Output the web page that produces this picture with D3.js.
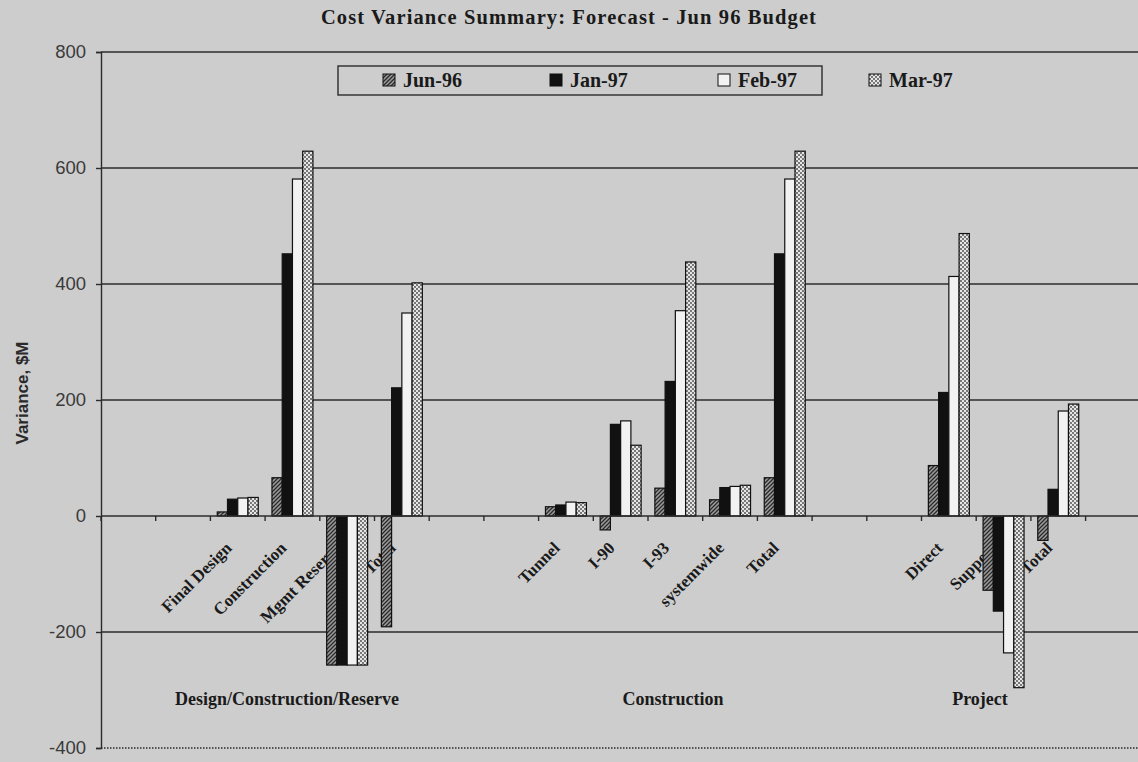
<!DOCTYPE html>
<html><head><meta charset="utf-8">
<script src="https://cdn.jsdelivr.net/npm/d3@7"></script>
<style>body{margin:0;background:#cdcdcd;} svg{display:block}</style>
</head><body><svg id="c" width="1138" height="762"></svg>
<script>
// ---- data ----
const categories = ["", "", "Final Design", "Construction", "Mgmt Reserve", "Total", "", "", "Tunnel", "I-90", "I-93", "systemwide", "Total", "", "", "Direct", "Support", "Total", ""];
const seriesNames = ["Jun-96", "Jan-97", "Feb-97", "Mar-97"];
const jun96 = [null, null, 7, 66, -257, -191, null, null, 16, -24, 48, 28, 66, null, null, 87, -128, -42, null];
const jan97 = [null, null, 29, 452, -257, 221, null, null, 19, 158, 232, 49, 452, null, null, 213, -164, 46, null];
const feb97 = [null, null, 31, 581, -257, 350, null, null, 24, 164, 354, 51, 581, null, null, 413, -236, 181, null];
const mar97 = [null, null, 32, 629, -257, 402, null, null, 23, 122, 438, 53, 629, null, null, 487, -296, 193, null];
const groupLabels = ["Design/Construction/Reserve", "Construction", "Project"];
const yTicks = [-400, -200, 0, 200, 400, 600, 800];
const titleText = "Cost Variance Summary: Forecast - Jun 96 Budget";
const yLabelText = "Variance, $M";

// ---- layout ----
const svg = d3.select("#c");
const plotLeft = 101, plotTop = 52, plotBottom = 748, step = 54.7;
const plotRight = plotLeft + step * categories.length;
const groupLabelX = [287, 673, 980];
const legendX = [383, 550, 718, 869];
const ink = "#1a1a1a";

const y = d3.scaleLinear().domain([-400, 800]).range([plotBottom, plotTop]);
const x = d3.scaleBand().domain(d3.range(categories.length)).range([plotLeft, plotRight]).padding(0);
const xs = d3.scaleBand().domain(seriesNames).range([0, x.bandwidth()]).paddingInner(0).paddingOuter(0.67);

const series = [jun96, jan97, feb97, mar97];

// patterns
const defs = svg.append("defs");
const pj = defs.append("pattern").attr("id", "pJun").attr("patternUnits", "userSpaceOnUse").attr("width", 4).attr("height", 4);
pj.append("rect").attr("width", 4).attr("height", 4).attr("fill", "#9c9c9c");
pj.append("path").attr("d", "M0,4 L4,0 M-1,1 L1,-1 M3,5 L5,3").attr("stroke", "#2a2a2a").attr("stroke-width", 1.3);
const pm = defs.append("pattern").attr("id", "pMar").attr("patternUnits", "userSpaceOnUse").attr("width", 4).attr("height", 4);
pm.append("rect").attr("width", 4).attr("height", 4).attr("fill", "#e6e6e6");
pm.append("circle").attr("cx", 1).attr("cy", 1).attr("r", 0.9).attr("fill", "#444");
pm.append("circle").attr("cx", 3).attr("cy", 3).attr("r", 0.9).attr("fill", "#444");
const fills = ["url(#pJun)", "#111", "#f2f2f2", "url(#pMar)"];

// title
svg.append("text").attr("x", 569).attr("y", 24).attr("text-anchor", "middle")
  .attr("font-family", "Liberation Serif").attr("font-weight", "bold").attr("font-size", 20.5)
  .attr("letter-spacing", 1.1).attr("fill", ink).text(titleText);

// y label
svg.append("text").attr("transform", `translate(28,393) rotate(-90)`).attr("text-anchor", "middle")
  .attr("font-family", "Liberation Sans").attr("font-weight", "bold").attr("font-size", 17)
  .attr("fill", "#2a2a2a").text(yLabelText);

// gridlines
svg.append("g").selectAll("line").data(yTicks.filter(v => v !== -400 && v !== 0)).join("line")
  .attr("x1", plotLeft).attr("x2", plotRight).attr("y1", d => y(d)).attr("y2", d => y(d))
  .attr("stroke", "#2b2b2b").attr("stroke-width", 1.4);
svg.append("line").attr("x1", plotLeft).attr("x2", plotRight).attr("y1", y(-400)).attr("y2", y(-400))
  .attr("stroke", "#2b2b2b").attr("stroke-width", 1.3).attr("stroke-dasharray", "1.5,1.5");

// y axis
const yAxis = d3.axisLeft(y).tickValues(yTicks).tickSize(5).tickPadding(10).tickFormat(d => String(d));
const gy = svg.append("g").attr("transform", `translate(${plotLeft},0)`).call(yAxis);
gy.select(".domain").attr("stroke", "#2b2b2b").attr("stroke-width", 1.4);
gy.selectAll(".tick line").attr("stroke", "#2b2b2b").attr("stroke-width", 1.4);
gy.selectAll(".tick text").attr("font-family", "Liberation Sans").attr("font-size", 18.5).attr("fill", "#3a3a3a");

// category labels (behind bars)
svg.append("g").selectAll("text").data(categories.map((c, i) => ({ c, i })).filter(d => d.c)).join("text")
  .attr("transform", d => `translate(${x(d.i) + x.bandwidth() / 2 - 5},549) rotate(-45)`)
  .attr("text-anchor", "end").attr("font-family", "Liberation Serif").attr("font-weight", "bold")
  .attr("font-size", 17).attr("fill", ink).text(d => d.c);

// bars
series.forEach((vals, si) => {
  svg.append("g").selectAll("rect").data(vals.map((v, i) => ({ v, i })).filter(d => d.v !== null)).join("rect")
    .attr("x", d => x(d.i) + xs(seriesNames[si]))
    .attr("width", xs.bandwidth())
    .attr("y", d => y(Math.max(0, d.v)))
    .attr("height", d => Math.abs(y(d.v) - y(0)))
    .attr("fill", fills[si]).attr("stroke", "#111").attr("stroke-width", 1.2);
});

// zero axis with category ticks
svg.append("line").attr("x1", plotLeft).attr("x2", plotRight).attr("y1", y(0)).attr("y2", y(0))
  .attr("stroke", "#2b2b2b").attr("stroke-width", 1.5);
svg.append("g").selectAll("line").data(d3.range(categories.length + 1)).join("line")
  .attr("x1", i => plotLeft + i * x.step()).attr("x2", i => plotLeft + i * x.step())
  .attr("y1", y(0)).attr("y2", y(0) + 5).attr("stroke", "#2b2b2b").attr("stroke-width", 1.4);

// group labels
svg.append("g").selectAll("text").data(groupLabels).join("text")
  .attr("x", (d, i) => groupLabelX[i]).attr("y", 705).attr("text-anchor", "middle")
  .attr("font-family", "Liberation Serif").attr("font-weight", "bold").attr("font-size", 18)
  .attr("fill", ink).text(d => d);

// legend
svg.append("rect").attr("x", 338).attr("y", 66).attr("width", 484).attr("height", 29)
  .attr("fill", "none").attr("stroke", "#2b2b2b").attr("stroke-width", 1.4);
const lg = svg.append("g").selectAll("g").data(seriesNames).join("g")
  .attr("transform", (d, i) => `translate(${legendX[i]},74)`);
lg.append("rect").attr("width", 12).attr("height", 12).attr("fill", (d, i) => fills[i]).attr("stroke", "#111").attr("stroke-width", 1);
lg.append("text").attr("x", 20).attr("y", 13).attr("font-family", "Liberation Serif").attr("font-weight", "bold")
  .attr("font-size", 20).attr("fill", ink).text(d => d);
</script></body></html>
